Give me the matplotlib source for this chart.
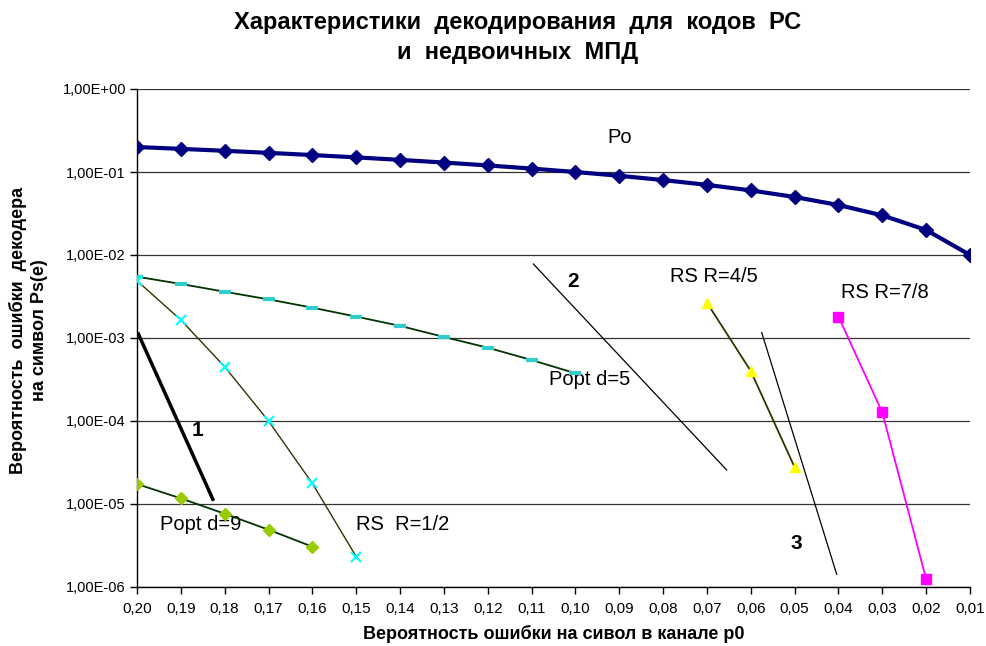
import numpy as np
import matplotlib
matplotlib.use("Agg")
import matplotlib.pyplot as plt
from matplotlib.ticker import FixedLocator, NullLocator

plt.rcParams['font.family'] = ['Liberation Sans', 'DejaVu Sans']

# ---- data ----
p0 = [0.20, 0.19, 0.18, 0.17, 0.16, 0.15, 0.14, 0.13, 0.12, 0.11,
      0.10, 0.09, 0.08, 0.07, 0.06, 0.05, 0.04, 0.03, 0.02, 0.01]
po = [0.20, 0.19, 0.18, 0.17, 0.16, 0.15, 0.14, 0.13, 0.12, 0.11,
      0.10, 0.09, 0.08, 0.07, 0.06, 0.05, 0.04, 0.03, 0.02, 0.01]

popt5_x = [0.20, 0.19, 0.18, 0.17, 0.16, 0.15, 0.14, 0.13, 0.12, 0.11, 0.10]
popt5_y = [5.48e-3, 4.48e-3, 3.61e-3, 2.92e-3, 2.32e-3, 1.81e-3, 1.40e-3,
           1.03e-3, 7.64e-4, 5.43e-4, 3.76e-4]

rs12_x = [0.20, 0.19, 0.18, 0.17, 0.16, 0.15]
rs12_y = [4.9e-3, 1.65e-3, 4.5e-4, 1.0e-4, 1.77e-5, 2.32e-6]

popt9_x = [0.20, 0.19, 0.18, 0.17, 0.16]
popt9_y = [1.74e-5, 1.17e-5, 7.63e-6, 4.9e-6, 3.06e-6]

rs45_x = [0.07, 0.06, 0.05]
rs45_y = [2.66e-3, 4.0e-4, 2.77e-5]

rs78_x = [0.04, 0.03, 0.02]
rs78_y = [1.81e-3, 1.27e-4, 1.24e-6]

# hand-drawn reference lines 1, 2, 3 (endpoints in data units)
line1_x = [0.1997, 0.1827]
line1_y = [1.12e-3, 1.14e-5]
line2_x = [0.1096, 0.0655]
line2_y = [7.8e-3, 2.57e-5]
line3_x = [0.0575, 0.0404]
line3_y = [1.16e-3, 1.42e-6]

ytick_vals = [1e0, 1e-1, 1e-2, 1e-3, 1e-4, 1e-5, 1e-6]
ytick_labels = ['1,00E+00', '1,00E-01', '1,00E-02', '1,00E-03',
                '1,00E-04', '1,00E-05', '1,00E-06']

# ---- figure ----
fig = plt.figure(figsize=(9.86, 6.46), dpi=100)
ax = fig.add_axes([137/986, 1-587/646, (970-137)/986, (587-89)/646])

ax.set_yscale('log')
ax.set_ylim(1e-6, 1e0)
ax.set_xlim(0.20, 0.01)

ax.yaxis.set_major_locator(FixedLocator(ytick_vals))
ax.yaxis.set_minor_locator(NullLocator())
ax.set_yticks(ytick_vals)
ax.set_yticklabels(ytick_labels)
ax.set_xticks(p0)
ax.set_xticklabels([f"{v:.2f}".replace('.', ',') for v in p0])
ax.tick_params(axis='both', length=5, width=1, direction='out', colors='black')
ax.tick_params(axis='x', labelsize=11, pad=6)
ax.tick_params(axis='y', labelsize=10.5, pad=3)

for s in ['top', 'right']:
    ax.spines[s].set_visible(False)
for s in ['left', 'bottom']:
    ax.spines[s].set_color('black')
    ax.spines[s].set_linewidth(1.0)

ax.grid(axis='y', which='major', color='#333333', linewidth=0.9)
ax.set_axisbelow(True)

# series
ax.plot(p0, po, color='#000080', linewidth=3, marker='D', markersize=7,
        markerfacecolor='#000080', markeredgecolor='#000080', zorder=5)
ax.plot(popt5_x, popt5_y, color='#003300', linewidth=1.3, marker='_', markersize=8,
        markeredgewidth=3, markeredgecolor='#33CCCC', zorder=4)
ax.plot(rs12_x, rs12_y, color='#333300', linewidth=1.0, marker='x', markersize=7,
        markeredgewidth=1.5, markeredgecolor='#00FFFF', zorder=4)
ax.plot(popt9_x, popt9_y, color='#003300', linewidth=1.3, marker='D', markersize=6,
        markerfacecolor='#99CC00', markeredgecolor='#99CC00', zorder=4)
ax.plot(rs45_x, rs45_y, color='#333300', linewidth=1.3, marker='^', markersize=7,
        markerfacecolor='#FFFF00', markeredgecolor='#FFFF00', zorder=4)
ax.plot(rs78_x, rs78_y, color='#FF00FF', linewidth=1.3, marker='s', markersize=7,
        markerfacecolor='#FF00FF', markeredgecolor='#FF00FF', zorder=4)

ax.plot(line1_x, line1_y, color='black', linewidth=2.5, zorder=3)
ax.plot(line2_x, line2_y, color='black', linewidth=0.9, zorder=3)
ax.plot(line3_x, line3_y, color='black', linewidth=0.9, zorder=3)

# annotations
lab_fs = 14.5
ax.text(0.0898, 10**-0.590, 'Po', fontsize=lab_fs, ha='center', va='center')
ax.text(0.1005, 10**-2.325, '2', fontsize=15, fontweight='bold', ha='center', va='center')
ax.text(0.0684, 10**-2.265, 'RS R=4/5', fontsize=lab_fs, ha='center', va='center')
ax.text(0.0294, 10**-2.446, 'RS R=7/8', fontsize=lab_fs, ha='center', va='center')
ax.text(0.0967, 10**-3.494, 'Popt d=5', fontsize=lab_fs, ha='center', va='center')
ax.text(0.1861, 10**-4.120, '1', fontsize=15, fontweight='bold', ha='center', va='center')
ax.text(0.1854, 10**-5.253, 'Popt d=9', fontsize=lab_fs, ha='center', va='center')
ax.text(0.1393, 10**-5.253, 'RS  R=1/2', fontsize=lab_fs, ha='center', va='center')
ax.text(0.0497, 10**-5.470, '3', fontsize=15, fontweight='bold', ha='center', va='center')

# titles
fig.text(518/986, 1-22/646, 'Характеристики  декодирования  для  кодов  РС',
         fontsize=17, fontweight='bold', ha='center', va='center')
fig.text(518/986, 1-53/646, 'и  недвоичных  МПД',
         fontsize=17, fontweight='bold', ha='center', va='center')
fig.text(554/986, 1-634/646, 'Вероятность ошибки на сивол в канале р0',
         fontsize=13, fontweight='bold', ha='center', va='center')
fig.text(18/986, 1-330/646, 'Вероятность  ошибки  декодера',
         fontsize=13, fontweight='bold', ha='center', va='center', rotation=90)
fig.text(40/986, 1-330/646, 'на символ Ps(e)',
         fontsize=13, fontweight='bold', ha='center', va='center', rotation=90)

fig.savefig('out.png', dpi=100)
